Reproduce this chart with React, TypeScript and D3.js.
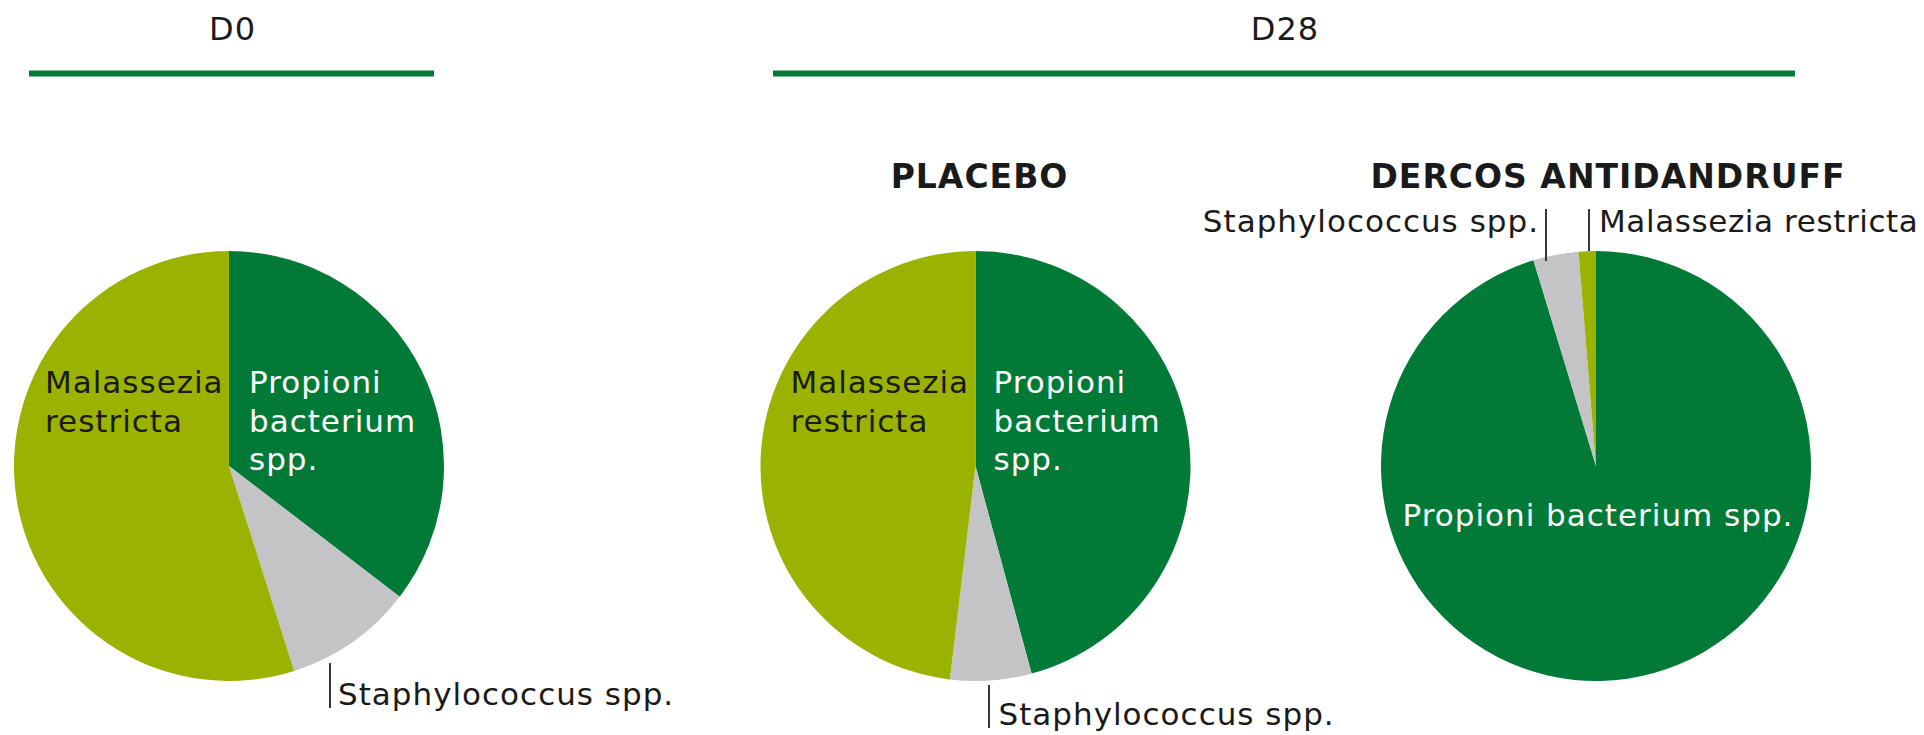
import React, { useRef, useEffect } from "react";
import * as d3 from "d3";

// species shares (%), clockwise from 12 o'clock
const species = ["Propioni bacterium spp.", "Staphylococcus spp.", "Malassezia restricta"];
const d0Values = [35.4, 9.7, 54.9];
const placeboValues = [45.8, 6.1, 48.1];
const dercosValues = [95.3, 3.4, 1.3];

const groupTitles = ["D0", "D28"];
const pieTitles = ["", "PLACEBO", "DERCOS ANTIDANDRUFF"];

const colors = ["#017A37", "#C4C4C6", "#9BB300"];

const FONT = "'DejaVu Sans', sans-serif";
const INK = "#1a1a1a";

type LabelSpec = {
  lines: string[];
  dx: number;
  dy: number;
  anchor: "start" | "middle" | "end";
  fill: string;
  spacing?: number;
  leader?: [number, number, number]; // x offset, y1, y2 (relative to pie center)
};

type PieSpec = {
  values: number[];
  title: string;
  titleDx: number;
  cx: number;
  labels: LabelSpec[];
};

const W = 1924;
const H = 735;
const R = 215;
const CY = 466;
const LINE_H = 38.5;

const pies: PieSpec[] = [
  {
    values: d0Values,
    title: pieTitles[0],
    titleDx: 0,
    cx: 229,
    labels: [
      { lines: ["Propioni", "bacterium", "spp."], dx: 20, dy: -73, anchor: "start", fill: "#fff" },
      { lines: ["Malassezia", "restricta"], dx: -184, dy: -73, anchor: "start", fill: INK },
      { lines: [species[1]], dx: 109, dy: 239, anchor: "start", fill: INK, leader: [101, 197, 242] },
    ],
  },
  {
    values: placeboValues,
    title: pieTitles[1],
    titleDx: 4,
    cx: 975.5,
    labels: [
      { lines: ["Propioni", "bacterium", "spp."], dx: 18, dy: -73, anchor: "start", fill: "#fff" },
      { lines: ["Malassezia", "restricta"], dx: -185, dy: -73, anchor: "start", fill: INK },
      { lines: [species[1]], dx: 23, dy: 259, anchor: "start", fill: INK, leader: [13.5, 219, 262] },
    ],
  },
  {
    values: dercosValues,
    title: pieTitles[2],
    titleDx: 12,
    cx: 1596,
    labels: [
      { lines: [species[0]], dx: 2, dy: 60, anchor: "middle", fill: "#fff" },
      { lines: [species[1]], dx: -57, dy: -234, anchor: "end", fill: INK, leader: [-50, -257, -205] },
      { lines: [species[2]], dx: 3, dy: -234, anchor: "start", fill: INK, spacing: 0.6, leader: [-7, -257, -215] },
    ],
  },
];

// header rules above the groups
const groups = [
  { title: groupTitles[0], x0: 29, x1: 434 },
  { title: groupTitles[1], x0: 773, x1: 1795 },
];

function PieCharts() {
  const svgRef = useRef<SVGSVGElement>(null);

  useEffect(() => {
    if (!svgRef.current) return;
    const svg = d3.select(svgRef.current);
    svg.selectAll("*").remove();

    // group headers
    groups.forEach(g => {
      svg.append("text")
        .attr("x", (g.x0 + g.x1) / 2 + 1)
        .attr("y", 40)
        .attr("text-anchor", "middle")
        .attr("font-family", FONT)
        .attr("font-size", 32)
        .attr("letter-spacing", 1)
        .attr("fill", INK)
        .text(g.title);
      svg.append("line")
        .attr("x1", g.x0)
        .attr("x2", g.x1)
        .attr("y1", 73.5)
        .attr("y2", 73.5)
        .attr("stroke", "#017A37")
        .attr("stroke-width", 6);
    });

    const pie = d3.pie<number>().sort(null).value(d => d);
    const arc = d3.arc<d3.PieArcDatum<number>>().innerRadius(0).outerRadius(R);

    pies.forEach(p => {
      const g = svg.append("g").attr("transform", `translate(${p.cx},${CY})`);

      g.selectAll("path")
        .data(pie(p.values))
        .enter()
        .append("path")
        .attr("d", arc)
        .attr("fill", (_d, i) => colors[i]);

      if (p.title) {
        g.append("text")
          .attr("x", p.titleDx)
          .attr("y", 188 - CY)
          .attr("text-anchor", "middle")
          .attr("font-family", FONT)
          .attr("font-weight", "bold")
          .attr("font-size", 33)
          .attr("letter-spacing", 1)
          .attr("fill", INK)
          .text(p.title);
      }

      p.labels.forEach(l => {
        if (l.leader) {
          g.append("line")
            .attr("x1", l.leader[0])
            .attr("x2", l.leader[0])
            .attr("y1", l.leader[1])
            .attr("y2", l.leader[2])
            .attr("stroke", "#222")
            .attr("stroke-width", 1.8);
        }
        const t = g.append("text")
          .attr("font-family", FONT)
          .attr("font-size", 31)
          .attr("letter-spacing", l.spacing ?? 1)
          .attr("text-anchor", l.anchor)
          .attr("fill", l.fill);
        l.lines.forEach((s, i) => {
          t.append("tspan")
            .attr("x", l.dx)
            .attr("y", l.dy + i * LINE_H)
            .text(s);
        });
      });
    });
  }, []);

  return <svg ref={svgRef} width={W} height={H} style={{ display: "block", background: "#fff" }} />;
}

export default function App() {
  return (
    <div style={{ position: "absolute", left: 0, top: 0 }}>
      <PieCharts />
    </div>
  );
}
